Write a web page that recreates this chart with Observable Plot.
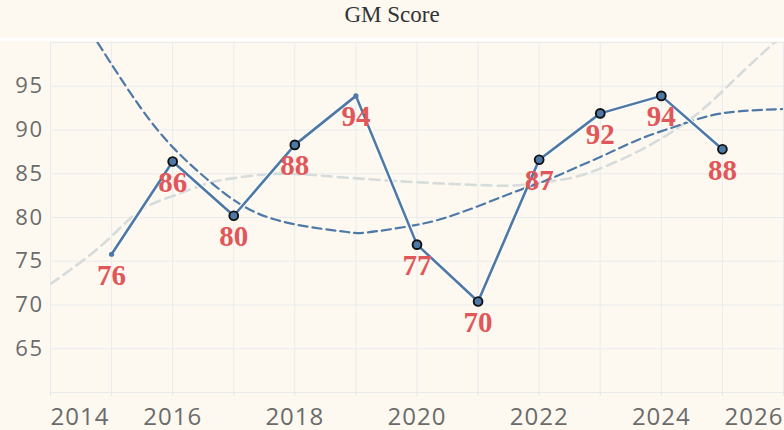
<!DOCTYPE html>
<html>
<head>
<meta charset="utf-8">
<script src="https://cdn.jsdelivr.net/npm/d3@7"></script>
<script src="https://cdn.jsdelivr.net/npm/@observablehq/plot@0.6"></script>
<style>
  html, body { margin: 0; padding: 0; background: #fdf9f0; }
  #title { height: 38px; box-sizing: border-box; padding-top: 1px; line-height: 28px; text-align: center;
           font-family: "Liberation Serif", "Times New Roman", serif; font-size: 23px; color: #333; }
  #band { height: 3px; background: #ffffff; }
  svg { display: block; }
  g[aria-label="x-axis tick label"] text { letter-spacing: 1px; }
  g[aria-label="y-axis tick label"] text { letter-spacing: 1.5px; }
</style>
</head>
<body>
<div id="title">GM Score</div>
<div id="band"></div>
<div id="chart"></div>
<script>
// Observed scores
const years  = [2015, 2016, 2017, 2018, 2019, 2020, 2021, 2022, 2023, 2024, 2025];
const scores = [75.8, 86.4, 80.2, 88.3, 93.9, 76.9, 70.4, 86.6, 91.9, 93.9, 87.8];
// Years drawn with a small plain dot instead of an outlined marker
const plainYears = [2015, 2019];

// Blue dashed trend
const blueTrendYears  = [2014.77, 2015.47, 2016.02, 2016.56, 2017.11, 2017.66, 2018.31, 2018.86, 2019.19, 2019.95, 2020.5, 2021.04, 2021.59, 2022.1, 2022.57, 2023.12, 2023.66, 2024.21, 2024.75, 2025.3, 2026.0];
const blueTrendValues = [100.0,   92.6,    87.9,    84.4,    81.5,    79.8,    78.84,   78.34,   78.3,    79.1,    80.05,  81.4,    82.9,    84.2,   85.6,    87.3,    89.0,    90.35,   91.55,   92.15,  92.4];

// Light grey dashed trend
const greyTrendYears  = [2014.0, 2014.38, 2014.93, 2015.47, 2016.02, 2016.57, 2017.11, 2017.7, 2018.3, 2018.86, 2019.95, 2021.04, 2021.6, 2022.02, 2022.57, 2023.12, 2023.66, 2024.21, 2024.75, 2025.3, 2025.9];
const greyTrendValues = [72.4,   74.3,    77.4,    80.8,    82.5,    83.9,    84.6,    85.0,   84.85,  84.55,   84.05,   83.7,    83.65,  84.0,    84.6,    85.95,   87.7,    89.95,   92.8,    96.45,  100.3];

// Axis ticks
const yTicks = [65, 70, 75, 80, 85, 90, 95];
const yGrid = [60, 65, 70, 75, 80, 85, 90, 95, 100];
const xGrid = [2014, 2015, 2016, 2017, 2018, 2019, 2020, 2021, 2022, 2023, 2024, 2025, 2026];
const xLabelsFirst = [2014];
const xLabelsMid = [2016, 2018, 2020, 2022, 2024];
const xLabelsLast = [2026];

const data = years.map((y, i) => ({year: y, value: scores[i], plain: plainYears.includes(y)}));
const blueTrend = blueTrendYears.map((y, i) => ({year: y, value: blueTrendValues[i]}));
const greyTrend = greyTrendYears.map((y, i) => ({year: y, value: greyTrendValues[i]}));

const blue = "#4e79a7";
const axisFont = {fill: "#6b6b6b", fontFamily: "'Open Sans', sans-serif", label: null};

const chart = Plot.plot({
  width: 784,
  height: 389,
  marginTop: 1,
  marginBottom: 38,
  marginLeft: 50,
  marginRight: 1,
  style: {background: "#fdf9f0", overflow: "visible"},
  x: {domain: [2014, 2026], label: null},
  y: {domain: [60, 100], label: null},
  marks: [
    Plot.gridX(xGrid, {stroke: "#e9ebee", strokeOpacity: 1, strokeWidth: 1}),
    Plot.gridY(yGrid, {stroke: "#e9ebee", strokeOpacity: 1, strokeWidth: 1}),
    Plot.axisX(xGrid, {tickSize: 4, stroke: "#e3e5e8", text: null, label: null}),
    Plot.axisX(xLabelsFirst, {tickSize: 0, tickPadding: 15, textAnchor: "start", fontSize: 24, tickFormat: d => String(d), ...axisFont}),
    Plot.axisX(xLabelsMid, {tickSize: 0, tickPadding: 15, fontSize: 24, tickFormat: d => String(d), ...axisFont}),
    Plot.axisX(xLabelsLast, {tickSize: 0, tickPadding: 15, textAnchor: "end", fontSize: 24, tickFormat: d => String(d), ...axisFont}),
    Plot.axisY(yTicks, {tickSize: 0, tickPadding: 7, fontSize: 22, ...axisFont}),
    Plot.line(greyTrend, {x: "year", y: "value", stroke: "#d6dcdc", strokeWidth: 2.6, strokeDasharray: "10,6", curve: "natural", clip: true}),
    Plot.line(blueTrend, {x: "year", y: "value", stroke: blue, strokeWidth: 2.2, strokeDasharray: "9,5", curve: "natural", clip: true}),
    Plot.line(data, {x: "year", y: "value", stroke: "#ffffff", strokeWidth: 5}),
    Plot.line(data, {x: "year", y: "value", stroke: blue, strokeWidth: 2.6}),
    Plot.dot(data.filter(d => d.plain), {x: "year", y: "value", r: 2.6, fill: blue}),
    Plot.dot(data.filter(d => !d.plain), {x: "year", y: "value", r: 4.4, fill: blue, stroke: "#111", strokeWidth: 1.9}),
    Plot.text(data, {x: "year", y: "value", text: d => String(Math.round(d.value)), dy: 21,
      fill: "#e15759", fontSize: 29, fontWeight: "bold", fontFamily: "'Liberation Serif', 'Times New Roman', serif"})
  ]
});
document.getElementById("chart").appendChild(chart);
</script>
</body>
</html>
